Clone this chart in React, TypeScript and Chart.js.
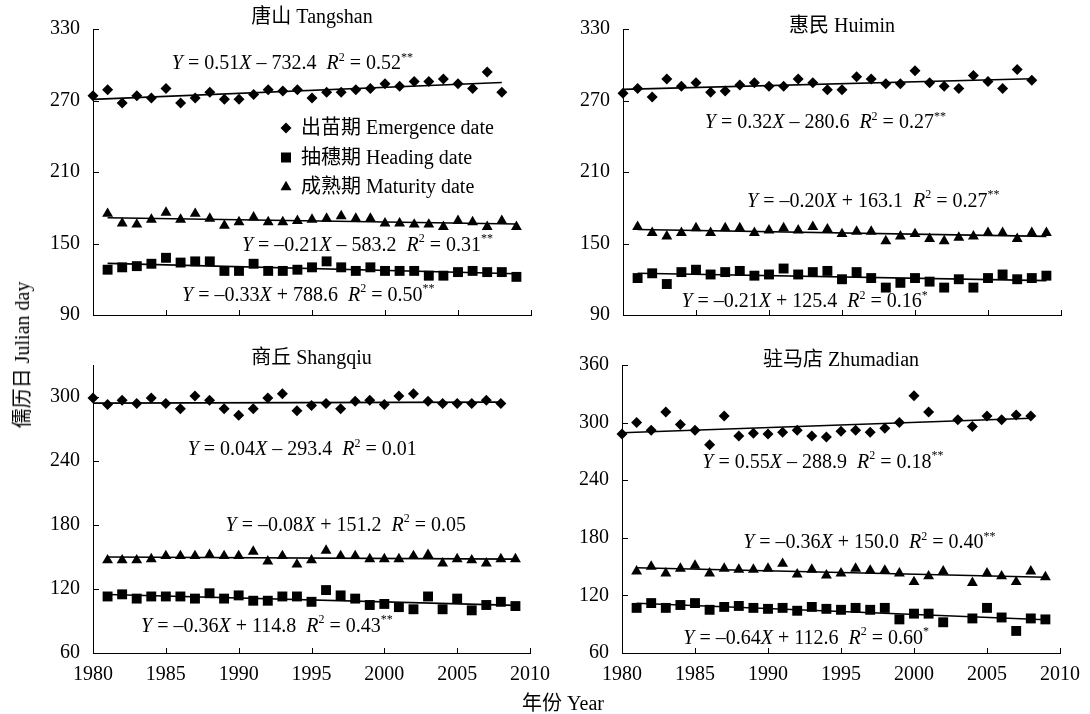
import React, { useEffect, useRef } from "react";
import { Chart, registerables } from "chart.js";

Chart.register(...registerables);

const FONT = '"Liberation Serif", "Times New Roman", "Noto Sans CJK SC", serif';

// ---- categories ----
const sowYears = [1980, 1981, 1982, 1983, 1984, 1985, 1986, 1987, 1988, 1989, 1990, 1991, 1992, 1993, 1994, 1995, 1996, 1997, 1998, 1999, 2000, 2001, 2002, 2003, 2004, 2005, 2006, 2007, 2008];
const harvestYears = [1981, 1982, 1983, 1984, 1985, 1986, 1987, 1988, 1989, 1990, 1991, 1992, 1993, 1994, 1995, 1996, 1997, 1998, 1999, 2000, 2001, 2002, 2003, 2004, 2005, 2006, 2007, 2008, 2009];

// ---- tick labels ----
const xTicks = [1980, 1985, 1990, 1995, 2000, 2005, 2010];
const yTicksTop = [90, 150, 210, 270, 330];
const yTicksBottomLeft = [60, 120, 180, 240, 300];
const yTicksBottomRight = [60, 120, 180, 240, 300, 360];

// ---- series values ----
const tangshanEmergence = [274, 279, 268, 274, 272, 280, 268, 272, 277, 271, 271, 275, 279, 278, 279, 272, 277, 277, 279, 280, 284, 282, 286, 286, 288, 284, 280, 294, 277];
const tangshanHeading = [128, 130, 131, 133, 138, 134, 135, 135, 127, 127, 133, 127, 127, 128, 130, 135, 130, 127, 130, 127, 127, 127, 123, 123, 126, 127, 126, 126, 122];
const tangshanMaturity = [175, 167, 166, 170, 176, 170, 175, 171, 165, 168, 172, 168, 168, 169, 170, 171, 173, 171, 171, 167, 167, 166, 166, 164, 169, 168, 164, 169, 164];

const huiminEmergence = [276, 280, 273, 288, 282, 285, 277, 278, 283, 285, 282, 282, 288, 285, 279, 279, 290, 288, 284, 284, 295, 285, 282, 280, 291, 286, 280, 296, 287];
const huiminHeading = [121, 125, 116, 126, 128, 124, 126, 127, 123, 124, 129, 124, 126, 127, 120, 126, 121, 113, 117, 121, 118, 113, 120, 113, 121, 124, 120, 121, 123];
const huiminMaturity = [164, 159, 156, 159, 163, 159, 163, 163, 159, 161, 163, 161, 164, 162, 158, 160, 160, 152, 156, 158, 154, 152, 155, 156, 159, 159, 154, 159, 159];

const shangqiuEmergence = [299, 293, 297, 294, 299, 294, 289, 301, 297, 289, 283, 289, 299, 303, 287, 292, 294, 289, 296, 297, 293, 301, 303, 296, 294, 294, 294, 297, 294];
const shangqiuHeading = [113, 115, 111, 113, 113, 113, 111, 116, 111, 114, 109, 109, 113, 113, 108, 119, 114, 111, 105, 106, 103, 101, 113, 101, 111, 100, 105, 108, 104];
const shangqiuMaturity = [147, 147, 147, 148, 151, 151, 151, 152, 151, 151, 155, 146, 151, 143, 147, 156, 151, 151, 148, 148, 148, 151, 152, 144, 148, 147, 144, 148, 148];

const zhumadianEmergence = [288, 300, 292, 311, 298, 292, 277, 307, 286, 289, 288, 290, 292, 286, 285, 291, 292, 290, 294, 300, 328, 311, null, 303, 296, 307, 303, 308, 307];
const zhumadianHeading = [107, 112, 107, 110, 112, 105, 108, 109, 107, 106, 107, 104, 108, 106, 105, 107, 105, 107, 95, 101, 101, 92, null, 96, 107, 97, 83, 96, 95];
const zhumadianMaturity = [145, 150, 143, 148, 151, 143, 148, 147, 147, 148, 153, 142, 147, 141, 143, 148, 146, 146, 143, 134, 140, 145, null, 133, 143, 140, 134, 145, 139];

// ---- texts ----
const stationNames = ["唐山 Tangshan", "惠民 Huimin", "商丘 Shangqiu", "驻马店 Zhumadian"];
const seriesNames = ["出苗期 Emergence date", "抽穗期 Heading date", "成熟期 Maturity date"];
const yAxisTitle = "儒历日 Julian day";
const xAxisTitle = "年份 Year";
// equations: [emergence, heading, maturity]
const tangshanEquations = ["Y = 0.51X – 732.4  R^2 = 0.52^**", "Y = –0.33X + 788.6  R^2 = 0.50^**", "Y = –0.21X – 583.2  R^2 = 0.31^**"];
const huiminEquations = ["Y = 0.32X – 280.6  R^2 = 0.27^**", "Y = –0.21X + 125.4  R^2 = 0.16^*", "Y = –0.20X + 163.1  R^2 = 0.27^**"];
const shangqiuEquations = ["Y = 0.04X – 293.4  R^2 = 0.01", "Y = –0.36X + 114.8  R^2 = 0.43^**", "Y = –0.08X + 151.2  R^2 = 0.05"];
const zhumadianEquations = ["Y = 0.55X – 288.9  R^2 = 0.18^**", "Y = –0.64X + 112.6  R^2 = 0.60^*", "Y = –0.36X + 150.0  R^2 = 0.40^**"];

type Panel = {
  title: string;
  emergence: (number | null)[];
  heading: (number | null)[];
  maturity: (number | null)[];
  yMin: number;
  yMax: number;
  yTicks: number[];
  equations: string[];
  eqPos: [number, number][];
  box: { left: number; top: number; width: number; height: number };
  area: { left: number; right: number; top: number; bottom: number };
  titleDy: number;
  showXLabels: boolean;
  legend?: { dx: number; dy: number; gap: number };
};

const panels: Panel[] = [
  {
    title: stationNames[0], emergence: tangshanEmergence, heading: tangshanHeading, maturity: tangshanMaturity,
    yMin: 90, yMax: 330, yTicks: yTicksTop, equations: tangshanEquations,
    eqPos: [[1985.4, 302], [1986.1, 107.5], [1990.2, 149.5]],
    box: { left: 0, top: 0, width: 545, height: 340 },
    area: { left: 93, right: 14, top: 29, bottom: 20 }, titleDy: -11, showXLabels: false,
    legend: { dx: 193, dy: 99, gap: 29.5 },
  },
  {
    title: stationNames[1], emergence: huiminEmergence, heading: huiminHeading, maturity: huiminMaturity,
    yMin: 90, yMax: 330, yTicks: yTicksTop, equations: huiminEquations,
    eqPos: [[1985.6, 252.5], [1984.0, 102], [1988.5, 186.3]],
    box: { left: 545, top: 0, width: 545, height: 340 },
    area: { left: 78, right: 29, top: 29, bottom: 17 }, titleDy: -2, showXLabels: false,
  },
  {
    title: stationNames[2], emergence: shangqiuEmergence, heading: shangqiuHeading, maturity: shangqiuMaturity,
    yMin: 60, yMax: 330, yTicks: yTicksBottomLeft, equations: shangqiuEquations,
    eqPos: [[1986.5, 251.5], [1983.3, 86.3], [1989.1, 181]],
    box: { left: 0, top: 340, width: 560, height: 374 },
    area: { left: 93, right: 29, top: 23, bottom: 61 }, titleDy: -6, showXLabels: true,
  },
  {
    title: stationNames[3], emergence: zhumadianEmergence, heading: zhumadianHeading, maturity: zhumadianMaturity,
    yMin: 60, yMax: 360, yTicks: yTicksBottomRight, equations: zhumadianEquations,
    eqPos: [[1985.5, 260], [1984.2, 76.4], [1988.3, 175.8]],
    box: { left: 555, top: 340, width: 535, height: 374 },
    area: { left: 67, right: 29, top: 21, bottom: 61 }, titleDy: -4, showXLabels: true,
  },
];

function toPoints(years: number[], values: (number | null)[]) {
  const pts: { x: number; y: number }[] = [];
  values.forEach((v, i) => {
    if (v !== null && v !== undefined) pts.push({ x: years[i], y: v });
  });
  return pts;
}

function trend(pts: { x: number; y: number }[]) {
  const n = pts.length;
  let sx = 0, sy = 0, sxx = 0, sxy = 0;
  pts.forEach((p) => { sx += p.x; sy += p.y; sxx += p.x * p.x; sxy += p.x * p.y; });
  const b = (n * sxy - sx * sy) / (n * sxx - sx * sx);
  const a = (sy - b * sx) / n;
  const x0 = pts[0].x, x1 = pts[n - 1].x;
  return [{ x: x0, y: a + b * x0 }, { x: x1, y: a + b * x1 }];
}

function drawRich(ctx: CanvasRenderingContext2D, text: string, x: number, yMid: number, size: number) {
  const parts = text.split(/(\^\S+|[YXR])/).filter((s) => s.length > 0);
  const base = yMid + size * 0.33;
  let cx = x;
  ctx.textAlign = "left";
  ctx.textBaseline = "alphabetic";
  for (const p of parts) {
    if (p.startsWith("^")) {
      const t = p.slice(1);
      ctx.font = `${Math.round(size * 0.6)}px ${FONT}`;
      ctx.fillText(t, cx, base - size * 0.42);
      cx += ctx.measureText(t).width;
    } else if (p === "Y" || p === "X" || p === "R") {
      ctx.font = `italic ${size}px ${FONT}`;
      ctx.fillText(p, cx, base);
      cx += ctx.measureText(p).width;
    } else {
      ctx.font = `${size}px ${FONT}`;
      ctx.fillText(p, cx, base);
      cx += ctx.measureText(p).width;
    }
  }
}

function drawMarker(ctx: CanvasRenderingContext2D, kind: string, x: number, y: number) {
  ctx.beginPath();
  if (kind === "diamond") {
    const r = 5.5;
    ctx.moveTo(x, y - r); ctx.lineTo(x + r, y); ctx.lineTo(x, y + r); ctx.lineTo(x - r, y);
  } else if (kind === "square") {
    const s = 5;
    ctx.rect(x - s, y - s, 2 * s, 2 * s);
  } else {
    const r = 6.3;
    ctx.moveTo(x, y - r);
    ctx.lineTo(x + r * Math.sin(Math.PI / 3), y + r / 2);
    ctx.lineTo(x - r * Math.sin(Math.PI / 3), y + r / 2);
  }
  ctx.closePath();
  ctx.fill();
}

function PanelChart({ p }: { p: Panel }) {
  const ref = useRef<HTMLCanvasElement>(null);
  useEffect(() => {
    if (!ref.current) return;
    const em = toPoints(sowYears, p.emergence);
    const he = toPoints(harvestYears, p.heading);
    const ma = toPoints(harvestYears, p.maturity);
    const lineDs = (pts: { x: number; y: number }[]) => ({
      type: "line" as const,
      data: trend(pts),
      borderColor: "#000",
      borderWidth: 1.6,
      pointRadius: 0,
      showLine: true,
      clip: false as const,
      order: 2,
    });
    const pointDs = (pts: { x: number; y: number }[], style: string, r: number) => ({
      data: pts,
      pointStyle: style,
      pointRadius: r,
      backgroundColor: "#000",
      borderColor: "#000",
      pointBorderWidth: 0,
      showLine: false,
      clip: false as const,
      order: 1,
    });
    const decor = {
      id: "decor",
      afterDraw(chart: any) {
        const ctx: CanvasRenderingContext2D = chart.ctx;
        const a = chart.chartArea;
        const xs = chart.scales.x;
        const ys = chart.scales.y;
        ctx.save();
        // inward tick marks
        ctx.strokeStyle = "#000";
        ctx.lineWidth = 1;
        ctx.beginPath();
        xTicks.forEach((v) => {
          const px = Math.round(xs.getPixelForValue(v)) + 0.5;
          ctx.moveTo(px, a.bottom);
          ctx.lineTo(px, a.bottom - 5);
        });
        p.yTicks.forEach((v) => {
          const py = Math.round(ys.getPixelForValue(v)) + 0.5;
          ctx.moveTo(a.left, py);
          ctx.lineTo(a.left + 6, py);
        });
        ctx.stroke();
        ctx.fillStyle = "#000";
        // title
        ctx.font = `20px ${FONT}`;
        ctx.textAlign = "center";
        ctx.textBaseline = "middle";
        ctx.fillText(p.title, (a.left + a.right) / 2, a.top + p.titleDy);
        // equations
        p.equations.forEach((eq, i) => {
          const [ex, ey] = p.eqPos[i];
          drawRich(ctx, eq, xs.getPixelForValue(ex), ys.getPixelForValue(ey), 20);
        });
        // legend
        if (p.legend) {
          const kinds = ["diamond", "square", "triangle"];
          kinds.forEach((k, i) => {
            const lx = a.left + p.legend!.dx;
            const ly = a.top + p.legend!.dy + i * p.legend!.gap;
            drawMarker(ctx, k, lx, ly);
            ctx.font = `20px ${FONT}`;
            ctx.textAlign = "left";
            ctx.textBaseline = "middle";
            ctx.fillText(seriesNames[i], lx + 15, ly + 1);
          });
        }
        ctx.restore();
      },
    };
    const chart = new Chart(ref.current, {
      type: "scatter",
      data: {
        datasets: [
          lineDs(em), lineDs(he), lineDs(ma),
          pointDs(em, "rectRot", 5.5),
          pointDs(he, "rect", 7),
          pointDs(ma, "triangle", 6.3),
        ] as any,
      },
      options: {
        animation: false,
        responsive: false,
        events: [],
        layout: { padding: { left: 0, right: p.area.right, top: p.area.top, bottom: 0 } },
        plugins: { legend: { display: false }, tooltip: { enabled: false }, title: { display: false } },
        scales: {
          x: {
            type: "linear",
            min: 1980,
            max: 2010,
            afterBuildTicks: (s: any) => { s.ticks = xTicks.map((v) => ({ value: v })); },
            afterFit: (s: any) => { s.height = p.area.bottom; },
            grid: { display: false, drawTicks: false },
            border: { display: true, color: "#000", width: 1 },
            ticks: {
              display: p.showXLabels,
              padding: 10,
              maxRotation: 0,
              autoSkip: false,
              color: "#000",
              font: { family: FONT, size: 20 },
              callback: (v: any) => String(v),
            },
          },
          y: {
            type: "linear",
            min: p.yMin,
            max: p.yMax,
            afterBuildTicks: (s: any) => { s.ticks = p.yTicks.map((v) => ({ value: v })); },
            afterFit: (s: any) => { s.width = p.area.left; },
            grid: { display: false, drawTicks: false },
            border: { display: true, color: "#000", width: 1 },
            ticks: {
              padding: 13,
              autoSkip: false,
              color: "#000",
              font: { family: FONT, size: 20 },
              callback: (v: any) => String(v),
            },
          },
        },
      } as any,
      plugins: [decor],
    });
    return () => chart.destroy();
  }, [p]);
  return (
    <div style={{ position: "absolute", left: p.box.left, top: p.box.top, width: p.box.width, height: p.box.height }}>
      <canvas ref={ref} width={p.box.width} height={p.box.height} style={{ display: "block" }} />
    </div>
  );
}

export default function App() {
  return (
    <div style={{ position: "absolute", left: 0, top: 0, width: 1090, height: 714, background: "#fff", fontFamily: FONT, color: "#000" }}>
      {panels.map((p, i) => (
        <PanelChart key={i} p={p} />
      ))}
      <div
        style={{
          position: "absolute", left: 22, top: 355, fontSize: 20, whiteSpace: "nowrap", lineHeight: 1,
          transform: "translate(-50%, -50%) rotate(-90deg)",
        }}
      >
        {yAxisTitle}
      </div>
      <div
        style={{
          position: "absolute", left: 563, top: 703, fontSize: 20, whiteSpace: "nowrap", lineHeight: 1,
          transform: "translate(-50%, -50%)",
        }}
      >
        {xAxisTitle}
      </div>
    </div>
  );
}
